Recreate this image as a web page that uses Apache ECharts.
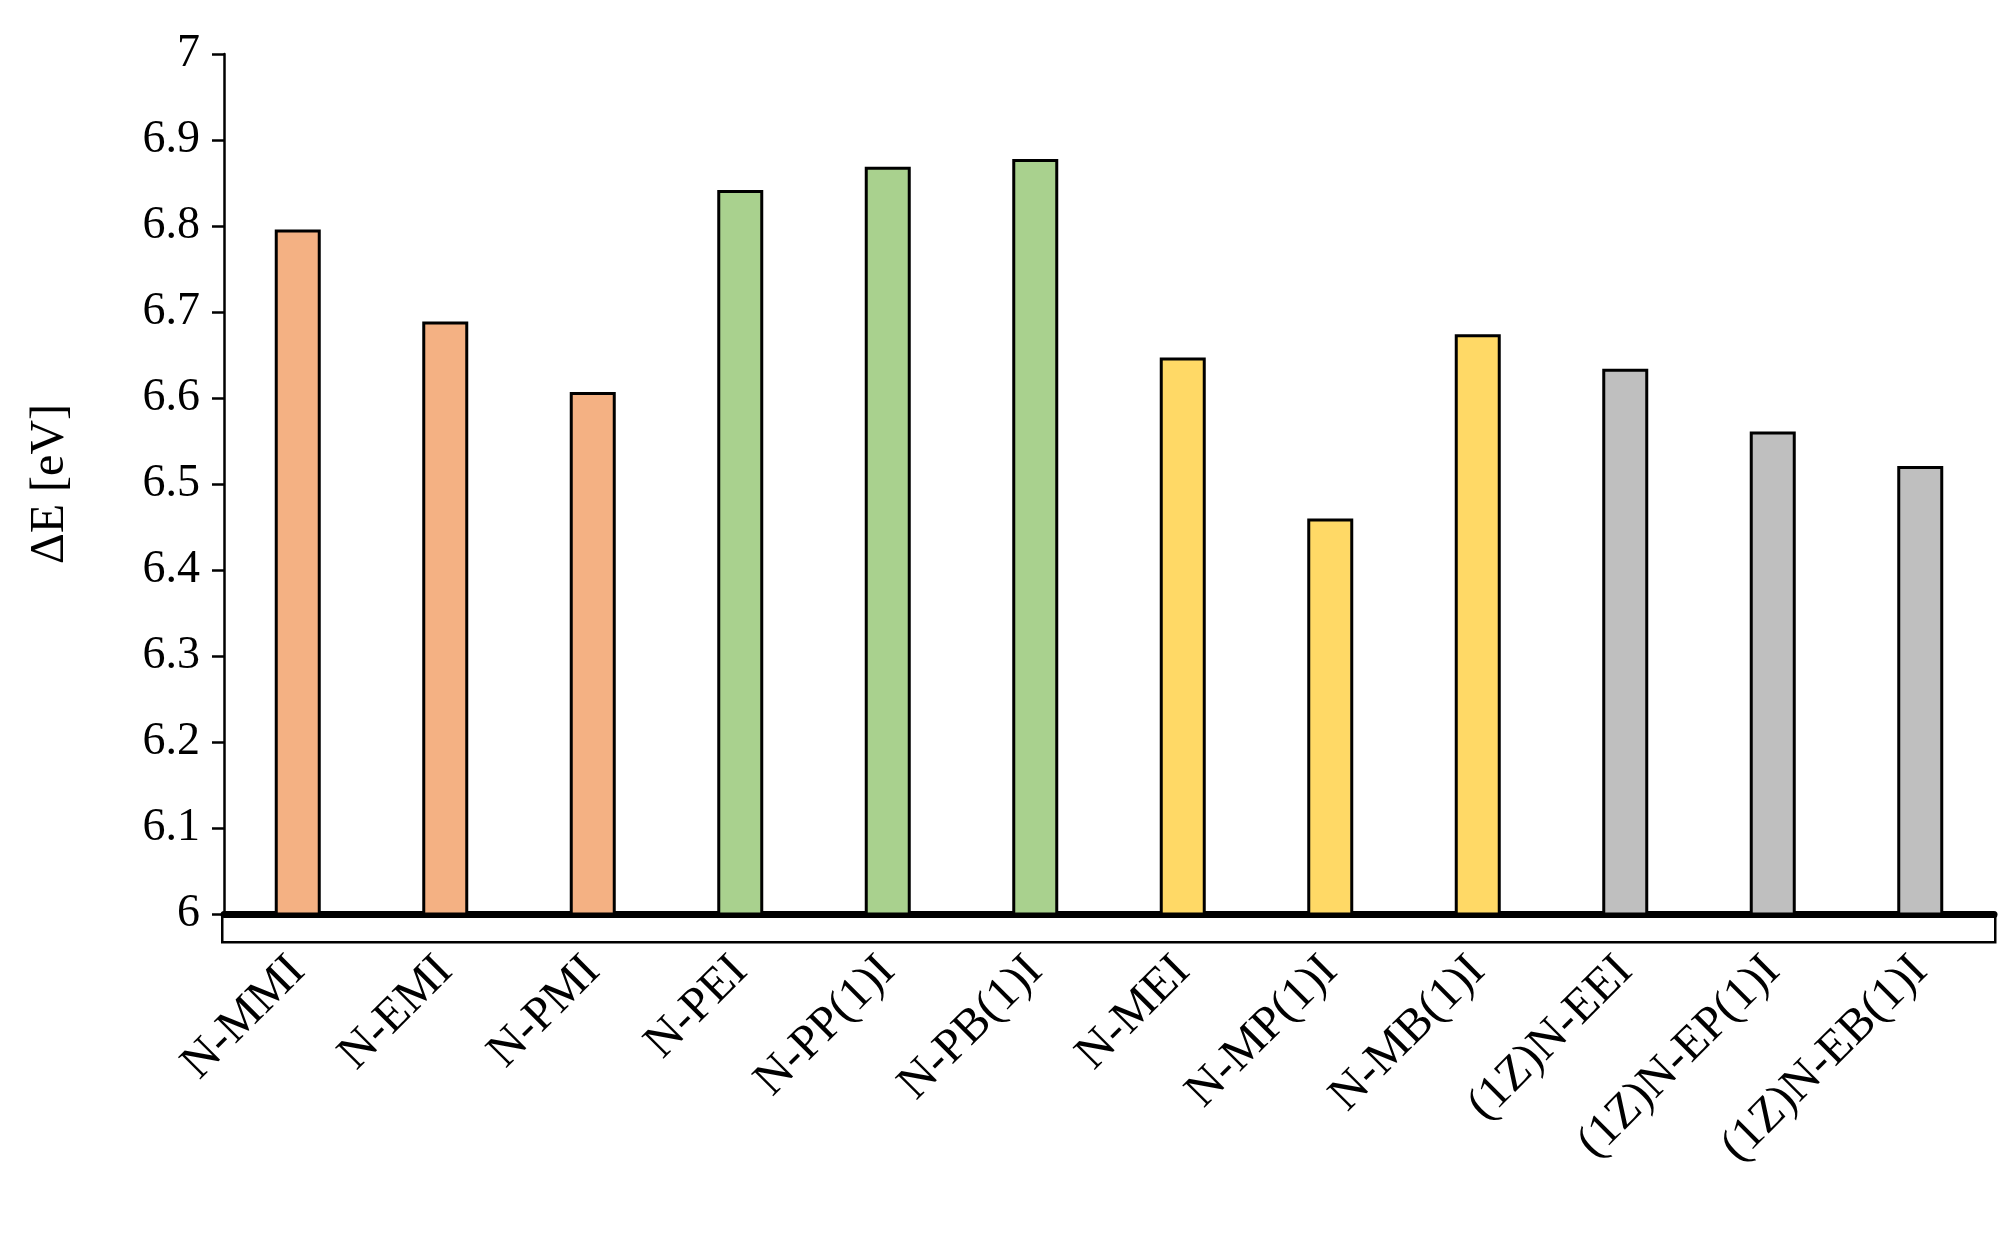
<!DOCTYPE html>
<html>
<head>
<meta charset="utf-8" />
<title>ΔE</title>
<script src="https://cdn.jsdelivr.net/npm/echarts@6/dist/echarts.min.js"></script>
<style>html,body{margin:0;background:#fff}#main{width:2008px;height:1251px}</style>
</head>
<body>
<div id="main"></div>
<script type="text/javascript">
var categories = ['N-MMI','N-EMI','N-PMI','N-PEI','N-PP(1)I','N-PB(1)I','N-MEI','N-MP(1)I','N-MB(1)I','(1Z)N-EEI','(1Z)N-EP(1)I','(1Z)N-EB(1)I'];
var values = [6.796, 6.689, 6.607, 6.842, 6.869, 6.878, 6.647, 6.460, 6.674, 6.634, 6.561, 6.521];
var colors = ['#F4B183','#F4B183','#F4B183','#A9D18E','#A9D18E','#A9D18E','#FFD966','#FFD966','#FFD966','#BFBFBF','#BFBFBF','#BFBFBF'];
var yTicks = ['6','6.1','6.2','6.3','6.4','6.5','6.6','6.7','6.8','6.9','7'];

var myChart = echarts.init(document.getElementById('main'));
var font = 'Liberation Serif';
myChart.setOption({
	animation: false,
	grid: {left: 224, right: 14, top: 54, bottom: 1251 - 914},
	xAxis: {
		type: 'category', data: categories,
		axisLine: {lineStyle: {color: '#000', width: 7}},
		axisTick: {show: false},
		axisLabel: {rotate: 45, margin: 50, color: '#000', fontFamily: font, fontSize: 48}
	},
	yAxis: {
		type: 'value', min: 6, max: 7, interval: 0.1,
		name: 'ΔE [eV]', nameLocation: 'middle', nameGap: 150,
		nameTextStyle: {color: '#000', fontFamily: font, fontSize: 48},
		axisLine: {show: true, lineStyle: {color: '#000', width: 2.5}},
		axisTick: {show: true, length: 12, lineStyle: {color: '#000', width: 2.5}},
		splitLine: {show: false},
		axisLabel: {color: '#000', fontFamily: font, fontSize: 46, margin: 24,
			formatter: function (v) { return yTicks[Math.round((v - 6) * 10)]; }}
	},
	graphic: [{
		type: 'rect', left: 221, top: 914,
		shape: {width: 1773, height: 27},
		style: {fill: '#fff', stroke: '#000', lineWidth: 2.5}
	}],
	series: [{
		type: 'bar', barWidth: 46,
		data: values.map(function (v, i) {
			return {value: v, itemStyle: {color: colors[i], borderColor: '#000', borderWidth: 3}};
		})
	}]
});
</script>
</body>
</html>
